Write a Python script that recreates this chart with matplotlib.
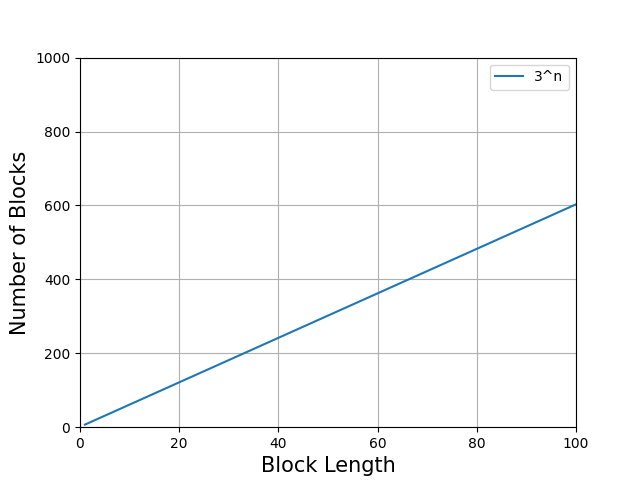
import matplotlib
matplotlib.use("Agg")
import matplotlib.pyplot as plt

block_length = [1, 100]
num_blocks = [7, 603]

fig, ax = plt.subplots(figsize=(6.4, 4.8), dpi=100)
ax.plot(block_length, num_blocks, label="3^n")
ax.set_xlim(0, 100)
ax.set_ylim(0, 1000)
ax.set_xlabel("Block Length", fontsize=15)
ax.set_ylabel("Number of Blocks", fontsize=15)
ax.grid(True)
ax.legend()
fig.savefig("out.png")
